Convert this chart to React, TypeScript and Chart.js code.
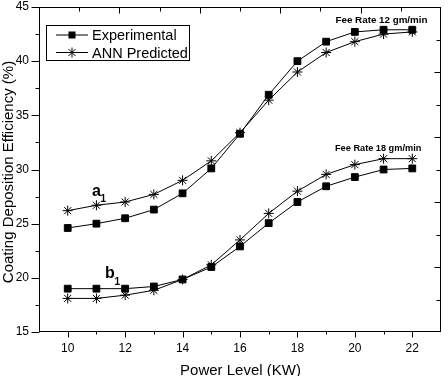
import React, { useEffect, useRef } from 'react';
import { Chart, registerables } from 'chart.js';

Chart.register(...registerables);

const powerLevels = [10, 11, 12, 13, 14, 15, 16, 17, 18, 19, 20, 21, 22];
const experimental12 = [24.6, 25.0, 25.5, 26.3, 27.8, 30.1, 33.3, 36.9, 40.0, 41.8, 42.7, 42.9, 42.9];
const predicted12 = [26.2, 26.7, 27.0, 27.7, 29.0, 30.8, 33.4, 36.4, 39.0, 40.8, 41.8, 42.5, 42.7];
const experimental18 = [19.0, 19.0, 19.0, 19.2, 19.85, 21.0, 22.9, 25.05, 27.0, 28.45, 29.3, 30.0, 30.1];
const predicted18 = [18.1, 18.1, 18.4, 18.85, 19.85, 21.2, 23.5, 25.95, 28.0, 29.55, 30.45, 31.0, 31.0];

const xTickValues = [10, 12, 14, 16, 18, 20, 22];
const xMinorValues = [11, 13, 15, 17, 19, 21];
const yTickValues = [15, 20, 25, 30, 35, 40, 45];
const yMinorValues = [17.5, 22.5, 27.5, 32.5, 37.5, 42.5];

const legendLabels = ['Experimental', 'ANN Predicted'];
const seriesNotes = ['Fee Rate 12 gm/min', 'Fee Rate 18 gm/min'];
const xTitle = 'Power Level (KW)';
const yTitle = 'Coating Deposition Efficiency (%)';

const FONT = "'Liberation Sans', Arial, sans-serif";

function drawStar(ctx: CanvasRenderingContext2D, x: number, y: number, r: number) {
  ctx.beginPath();
  for (let i = 0; i < 4; i++) {
    const a = (i * Math.PI) / 4;
    ctx.moveTo(x - r * Math.cos(a), y - r * Math.sin(a));
    ctx.lineTo(x + r * Math.cos(a), y + r * Math.sin(a));
  }
  ctx.stroke();
}

export default function App() {
  const ref = useRef<HTMLCanvasElement>(null);

  useEffect(() => {
    const decor = {
      id: 'decor',
      afterDraw(chart: any) {
        const ctx: CanvasRenderingContext2D = chart.ctx;
        const { left, right, top, bottom } = chart.chartArea;
        const xs = chart.scales.x;
        const ys = chart.scales.y;
        ctx.save();
        ctx.strokeStyle = '#000';
        ctx.fillStyle = '#000';
        ctx.lineWidth = 1;
        ctx.strokeRect(left + 0.5, top + 0.5, right - left - 1, bottom - top - 1);
        ctx.beginPath();
        const B = bottom - 0.5;
        const Lx = left + 0.5;
        const T = top + 0.5;
        const R = right - 0.5;
        xTickValues.forEach((v) => {
          const p = Math.round(xs.getPixelForValue(v)) + 0.5;
          ctx.moveTo(p, B);
          ctx.lineTo(p, B + 6);
        });
        xMinorValues.forEach((v) => {
          const p = Math.round(xs.getPixelForValue(v)) + 0.5;
          ctx.moveTo(p, B);
          ctx.lineTo(p, B + 3);
        });
        yTickValues.forEach((v) => {
          const p = Math.round(ys.getPixelForValue(v)) + 0.5;
          ctx.moveTo(Lx - 8, p);
          ctx.lineTo(Lx, p);
        });
        yMinorValues.forEach((v) => {
          const p = Math.round(ys.getPixelForValue(v)) + 0.5;
          ctx.moveTo(Lx - 4, p);
          ctx.lineTo(Lx, p);
        });
        for (let k = 1; k < 10; k++) {
          const px = Math.round(left + (k * (right - left)) / 10) + 0.5;
          const len = k % 2 === 0 ? 6 : 4;
          ctx.moveTo(px, T);
          ctx.lineTo(px, T + len);
          const py = Math.round(top + (k * (bottom - top)) / 10) + 0.5;
          ctx.moveTo(R, py);
          ctx.lineTo(R - len, py);
        }
        ctx.stroke();

        // legend
        ctx.strokeRect(46.5, 25.5, 143, 35);
        const rows = [35, 52.5];
        ctx.beginPath();
        rows.forEach((ry) => {
          ctx.moveTo(56, ry);
          ctx.lineTo(88, ry);
        });
        ctx.stroke();
        ctx.fillRect(72 - 3.5, rows[0] - 3.5, 7, 7);
        drawStar(ctx, 72, rows[1], 5);
        ctx.font = `14.5px ${FONT}`;
        ctx.textBaseline = 'alphabetic';
        ctx.textAlign = 'left';
        ctx.fillText(legendLabels[0], 92, 40);
        ctx.fillText(legendLabels[1], 92, 57.5);

        // annotations
        ctx.font = `bold 16px ${FONT}`;
        ctx.fillText('a', 92, 196);
        ctx.fillText('b', 105, 278);
        ctx.font = `bold 10px ${FONT}`;
        ctx.fillText('1', 100.5, 202);
        ctx.fillText('1', 114.5, 285);
        ctx.font = `bold 9.8px ${FONT}`;
        ctx.fillText(seriesNotes[0], 335.5, 23);
        ctx.font = `bold 9.2px ${FONT}`;
        ctx.fillText(seriesNotes[1], 335, 151);

        // axis titles
        ctx.font = `15px ${FONT}`;
        ctx.textAlign = 'center';
        ctx.fillText(xTitle, 240.5, 375);
        ctx.save();
        ctx.translate(13, 172);
        ctx.rotate(-Math.PI / 2);
        ctx.font = `15px ${FONT}`;
        ctx.fillText(yTitle, 0, 0);
        ctx.restore();
        ctx.restore();
      },
    };

    const mk = (data: number[], style: 'rect' | 'star') => ({
      data: powerLevels.map((x, i) => ({ x, y: data[i] })),
      borderColor: '#000',
      backgroundColor: '#000',
      pointBorderColor: '#000',
      pointBackgroundColor: '#000',
      borderWidth: 1,
      pointStyle: style,
      pointRadius: style === 'rect' ? 4.8 : 5,
      pointBorderWidth: 1,
      tension: 0,
      fill: false,
    });

    const tickFont = { family: FONT, size: 12 };

    const chart = new Chart(ref.current!, {
      type: 'line',
      data: {
        datasets: [
          mk(experimental12, 'rect'),
          mk(predicted12, 'star'),
          mk(experimental18, 'rect'),
          mk(predicted18, 'star'),
        ] as any,
      },
      options: {
        animation: false,
        responsive: false,
        layout: { padding: { top: 7, right: 7, left: 0, bottom: 0 } },
        plugins: { legend: { display: false }, tooltip: { enabled: false } },
        scales: {
          x: {
            type: 'linear',
            min: 9,
            max: 23,
            afterBuildTicks: (s: any) => {
              s.ticks = xTickValues.map((v) => ({ value: v }));
            },
            afterFit: (s: any) => {
              s.height = 44;
              s.paddingLeft = 0;
              s.paddingRight = 0;
            },
            ticks: { font: tickFont, color: '#000', padding: 9, maxRotation: 0 },
            grid: { display: false, drawTicks: false },
            border: { display: false },
          },
          y: {
            type: 'linear',
            min: 15,
            max: 45,
            afterBuildTicks: (s: any) => {
              s.ticks = yTickValues.map((v) => ({ value: v }));
            },
            afterFit: (s: any) => {
              s.width = 39;
              s.paddingTop = 0;
              s.paddingBottom = 0;
            },
            ticks: { font: tickFont, color: '#000', padding: 10 },
            grid: { display: false, drawTicks: false },
            border: { display: false },
          },
        },
      } as any,
      plugins: [decor],
    });
    return () => chart.destroy();
  }, []);

  return (
    <div style={{ position: 'absolute', left: 0, top: 0, width: 448, height: 376, background: '#fff' }}>
      <canvas ref={ref} width={448} height={376} style={{ display: 'block' }} />
    </div>
  );
}
